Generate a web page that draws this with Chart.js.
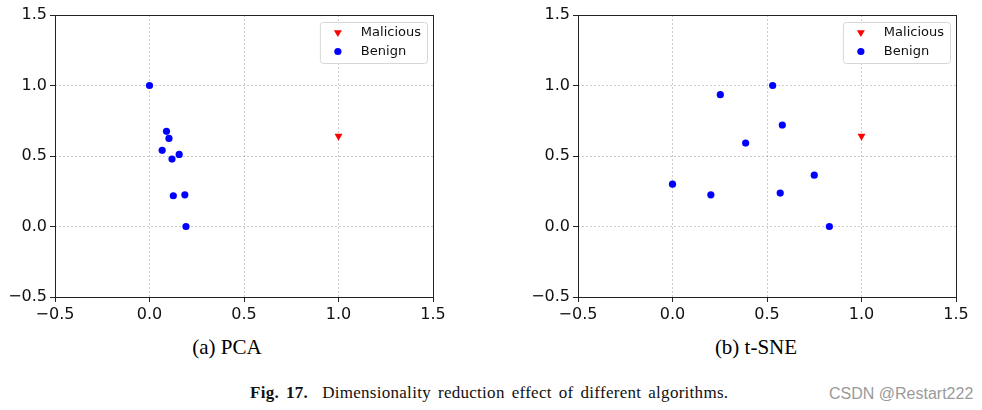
<!DOCTYPE html>
<html>
<head>
<meta charset="utf-8">
<script src="https://cdn.jsdelivr.net/npm/chart.js@4.4.1/dist/chart.umd.min.js"></script>
<style>
   body { margin: 0; background: #fff; }
   #page { position: relative; width: 982px; height: 410px; overflow: hidden; }
   .panel { position: absolute; top: 0; width: 445px; height: 325px; }
   .sub { position: absolute; top: 335px; font-family: "Liberation Serif", serif; font-size: 21px; color: #000; transform: translateX(-50%); white-space: nowrap; }
   #fig-caption { position: absolute; left: 250px; top: 383px; font-family: "Liberation Serif", serif; font-size: 17px; color: #111; white-space: nowrap; word-spacing: 2.5px; letter-spacing: 0.28px; }
   #watermark { position: absolute; left: 829px; top: 385px; font-family: "Liberation Sans", sans-serif; font-size: 16px; color: #9a9a9a; white-space: nowrap; }
</style>
</head>
<body>
<div id="page">
   <div class="panel" style="left:0px"><canvas id="pca-chart" width="445" height="325"></canvas></div>
   <div class="panel" style="left:523px"><canvas id="tsne-chart" width="445" height="325"></canvas></div>
   <div class="sub" style="left:227px">(a) PCA</div>
   <div class="sub" style="left:756px">(b) t-SNE</div>
   <div id="fig-caption"><b>Fig. 17.</b>&nbsp; Dimensionality reduction effect of different algorithms.</div>
   <div id="watermark">CSDN @Restart222</div>
</div>
<script>
const seriesLabels = ["Malicious", "Benign"];
const axisTicks = [-0.5, 0.0, 0.5, 1.0, 1.5];

const pcaMaliciousX = [1.0];
const pcaMaliciousY = [0.641];
const pcaBenignX = [0.0, 0.09, 0.103, 0.067, 0.119, 0.157, 0.126, 0.187, 0.193];
const pcaBenignY = [1.0, 0.675, 0.625, 0.54, 0.478, 0.511, 0.218, 0.225, 0.0];

const tsneMaliciousX = [1.0];
const tsneMaliciousY = [0.641];
const tsneBenignX = [0.0, 0.203, 0.253, 0.387, 0.53, 0.581, 0.57, 0.75, 0.83];
const tsneBenignY = [0.3, 0.225, 0.935, 0.592, 1.0, 0.72, 0.237, 0.364, 0.0];

const tickFont = { family: "DejaVu Sans", size: 16 };

function toPoints(xs, ys) {
   return xs.map((x, i) => ({ x: x, y: ys[i] }));
}

function formatTick(value) {
   const text = Math.abs(value).toFixed(1);
   return value < 0 ? "\u2212" + text : text;
}

// matplotlib style frame + legend inside the axes
const framePlugin = {
   id: "frame",
   afterDraw(chart) {
      const { ctx, chartArea } = chart;
      ctx.save();
      ctx.strokeStyle = "#222";
      ctx.lineWidth = 1;
      ctx.strokeRect(chartArea.left + 0.5, chartArea.top + 0.5,
         chartArea.right - chartArea.left, chartArea.bottom - chartArea.top);

      ctx.font = "13px 'DejaVu Sans'";
      const textWidth = Math.max(...chart.data.datasets.map((d) => ctx.measureText(d.label).width));
      const boxW = 41 + textWidth + 6;
      const boxH = 41;
      const boxX = chartArea.right - 6 - boxW;
      const boxY = chartArea.top + 7;
      ctx.fillStyle = "rgba(255,255,255,0.85)";
      ctx.strokeStyle = "#d6d6d6";
      ctx.beginPath();
      ctx.roundRect(boxX + 0.5, boxY + 0.5, boxW, boxH, 3);
      ctx.fill();
      ctx.stroke();

      chart.data.datasets.forEach((ds, i) => {
         const rowY = boxY + 10.5 + i * 19;
         ctx.fillStyle = ds.backgroundColor;
         Chart.helpers.drawPoint(ctx, {
            pointStyle: ds.pointStyle,
            rotation: ds.rotation || 0,
            radius: ds.pointRadius,
            borderWidth: 0,
         }, boxX + 18, rowY);
         ctx.fillStyle = "#111";
         ctx.textBaseline = "middle";
         ctx.textAlign = "left";
         ctx.fillText(ds.label, boxX + 41, rowY);
      });
      ctx.restore();
   },
};

function axisOptions(isX) {
   return {
      type: "linear",
      min: -0.5,
      max: 1.5,
      afterBuildTicks: (scale) => {
         scale.ticks = axisTicks.map((v) => ({ value: v }));
      },
      afterFit: (scale) => {
         if (isX) {
            scale.height = 28;
            scale.paddingLeft = 0;
            scale.paddingRight = 0;
         } else {
            scale.width = 55;
            scale.paddingTop = 0;
            scale.paddingBottom = 0;
         }
      },
      grid: {
         color: "rgba(0,0,0,0.2)",
         lineWidth: 1,
         tickColor: "#222",
         tickLength: 5,
         tickWidth: 1,
      },
      border: { display: false, dash: [2, 2] },
      ticks: {
         font: tickFont,
         color: "#111",
         padding: 3,
         maxRotation: 0,
         callback: (v) => formatTick(v),
      },
   };
}

function makeChart(canvasId, malX, malY, benX, benY) {
   return new Chart(document.getElementById(canvasId), {
      type: "scatter",
      data: {
         datasets: [
            {
               label: seriesLabels[0],
               data: toPoints(malX, malY),
               backgroundColor: "#ff0000",
               borderColor: "#ff0000",
               pointStyle: "triangle",
               rotation: 180,
               pointRadius: 4.6,
               borderWidth: 0,
            },
            {
               label: seriesLabels[1],
               data: toPoints(benX, benY),
               backgroundColor: "#0000ff",
               borderColor: "#0000ff",
               pointStyle: "circle",
               pointRadius: 3.6,
               borderWidth: 0,
            },
         ],
      },
      options: {
         responsive: false,
         devicePixelRatio: 1,
         animation: false,
         layout: { padding: { left: 0, top: 15, right: 12, bottom: 0 } },
         plugins: { legend: { display: false }, tooltip: { enabled: false } },
         scales: {
            x: axisOptions(true),
            y: axisOptions(false),
         },
      },
      plugins: [framePlugin],
   });
}

makeChart("pca-chart", pcaMaliciousX, pcaMaliciousY, pcaBenignX, pcaBenignY);
makeChart("tsne-chart", tsneMaliciousX, tsneMaliciousY, tsneBenignX, tsneBenignY);
</script>
</body>
</html>
